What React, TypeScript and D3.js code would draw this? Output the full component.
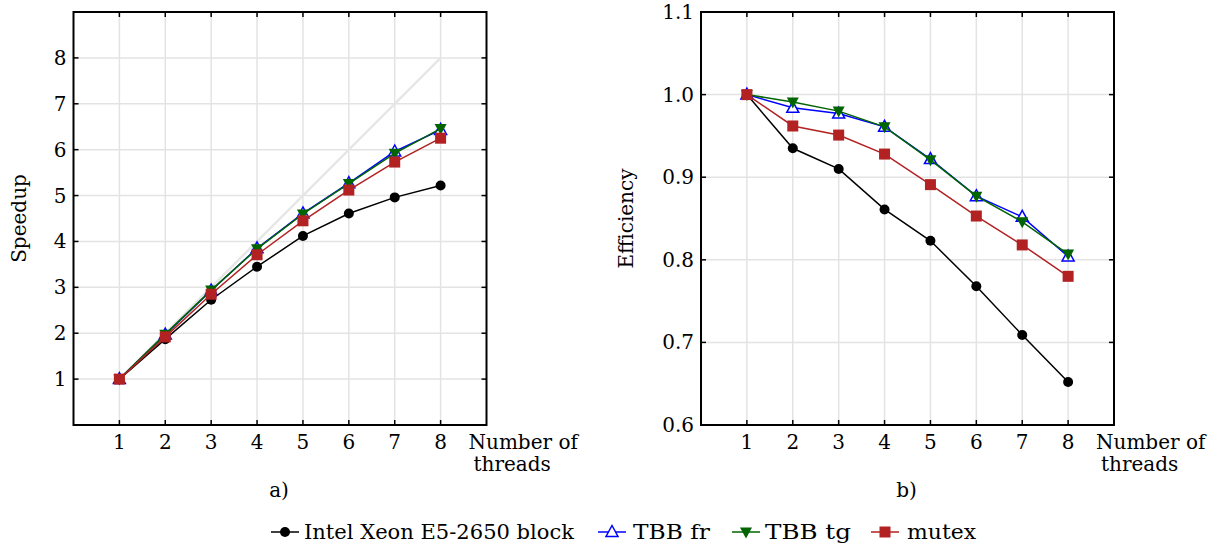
import * as React from 'react';
import * as d3 from 'd3';

const threads = [1, 2, 3, 4, 5, 6, 7, 8];
const idealSpeedup = [1, 8];

// speedup values (panel a)
const intelSpeedup = [1, 1.87, 2.73, 3.45, 4.12, 4.61, 4.96, 5.22];
const tbbFrSpeedup = [1, 1.97, 2.93, 3.85, 4.61, 5.27, 5.96, 6.43];
const tbbTgSpeedup = [1, 1.98, 2.94, 3.84, 4.6, 5.26, 5.92, 6.46];
const mutexSpeedup = [1, 1.92, 2.85, 3.71, 4.45, 5.12, 5.73, 6.25];

// efficiency values (panel b)
const intelEff = [1, 0.935, 0.91, 0.861, 0.823, 0.768, 0.709, 0.652];
const tbbFrEff = [1, 0.984, 0.977, 0.961, 0.922, 0.877, 0.852, 0.804];
const tbbTgEff = [1, 0.991, 0.98, 0.961, 0.921, 0.877, 0.846, 0.807];
const mutexEff = [1, 0.962, 0.951, 0.928, 0.891, 0.853, 0.818, 0.78];

const speedupTicks = [1, 2, 3, 4, 5, 6, 7, 8];
const effTicks = [0.6, 0.7, 0.8, 0.9, 1.0, 1.1];

const seriesNames = ['Intel Xeon E5-2650 block', 'TBB fr', 'TBB tg', 'mutex'];
const seriesColors = ['#000000', '#0000ff', '#006400', '#b22222'];
const seriesMarkers = ['circle', 'triUp', 'triDown', 'square'];

const FONT = '"DejaVu Serif", serif';
const FS = 20;

function drawMarker(g, kind, x, y, color) {
  if (kind === 'circle') {
    g.append('circle').attr('cx', x).attr('cy', y).attr('r', 5).attr('fill', color);
  } else if (kind === 'square') {
    g.append('rect').attr('x', x - 5.5).attr('y', y - 5.5).attr('width', 11).attr('height', 11).attr('fill', color);
  } else if (kind === 'triUp') {
    g.append('path')
      .attr('d', `M${x},${y - 6.5}L${x + 6},${y + 4.5}L${x - 6},${y + 4.5}Z`)
      .attr('fill', 'white').attr('stroke', color).attr('stroke-width', 1.5);
  } else {
    g.append('path')
      .attr('d', `M${x},${y + 6.5}L${x + 6},${y - 4.5}L${x - 6},${y - 4.5}Z`)
      .attr('fill', color);
  }
}

function drawPanel(svg, opts) {
  const { left, right, top, bottom, yDomain, yTicks, yFmt, series, ideal, ylabel, ylabelX, caption } = opts;
  const x = d3.scaleLinear().domain([0, 9]).range([left, right]);
  const y = d3.scaleLinear().domain(yDomain).range([bottom, top]);
  const g = svg.append('g');

  // grid
  threads.forEach((t) => {
    g.append('line').attr('x1', x(t)).attr('x2', x(t)).attr('y1', top).attr('y2', bottom)
      .attr('stroke', '#e3e3e3').attr('stroke-width', 1.5);
  });
  yTicks.forEach((v) => {
    g.append('line').attr('x1', left).attr('x2', right).attr('y1', y(v)).attr('y2', y(v))
      .attr('stroke', '#e3e3e3').attr('stroke-width', 1.5);
  });

  if (ideal) {
    g.append('line').attr('x1', x(1)).attr('y1', y(ideal[0])).attr('x2', x(8)).attr('y2', y(ideal[1]))
      .attr('stroke', '#e6e6e6').attr('stroke-width', 2.5);
  }

  // series
  series.forEach((vals, i) => {
    const line = d3.line().x((d, j) => x(threads[j])).y((d) => y(d));
    g.append('path').attr('d', line(vals)).attr('fill', 'none')
      .attr('stroke', seriesColors[i]).attr('stroke-width', 1.5);
    vals.forEach((v, j) => drawMarker(g, seriesMarkers[i], x(threads[j]), y(v), seriesColors[i]));
  });

  // frame
  g.append('rect').attr('x', left).attr('y', top).attr('width', right - left).attr('height', bottom - top)
    .attr('fill', 'none').attr('stroke', 'black').attr('stroke-width', 2);

  // inward ticks
  threads.forEach((t) => {
    g.append('line').attr('x1', x(t)).attr('x2', x(t)).attr('y1', bottom).attr('y2', bottom - 5).attr('stroke', 'black').attr('stroke-width', 1.5);
    g.append('line').attr('x1', x(t)).attr('x2', x(t)).attr('y1', top).attr('y2', top + 5).attr('stroke', 'black').attr('stroke-width', 1.5);
    g.append('text').attr('x', x(t)).attr('y', bottom + 24).attr('text-anchor', 'middle')
      .attr('font-family', FONT).attr('font-size', FS).text(String(t));
  });
  yTicks.forEach((v) => {
    g.append('line').attr('x1', left).attr('x2', left + 5).attr('y1', y(v)).attr('y2', y(v)).attr('stroke', 'black').attr('stroke-width', 1.5);
    g.append('line').attr('x1', right).attr('x2', right - 5).attr('y1', y(v)).attr('y2', y(v)).attr('stroke', 'black').attr('stroke-width', 1.5);
    g.append('text').attr('x', left - 7).attr('y', y(v) + 7).attr('text-anchor', 'end')
      .attr('font-family', FONT).attr('font-size', FS).text(yFmt(v));
  });

  g.append('text').attr('x', right - 18).attr('y', bottom + 24)
    .attr('font-family', FONT).attr('font-size', FS).text('Number of');
  g.append('text').attr('x', right - 13).attr('y', bottom + 46)
    .attr('font-family', FONT).attr('font-size', FS).text('threads');

  g.append('text').attr('transform', `translate(${ylabelX},${(top + bottom) / 2}) rotate(-90)`)
    .attr('text-anchor', 'middle').attr('font-family', FONT).attr('font-size', FS).text(ylabel);

  g.append('text').attr('x', (left + right) / 2 - 1).attr('y', 497).attr('text-anchor', 'middle')
    .attr('font-family', FONT).attr('font-size', FS).text(caption);
}

export default function App() {
  const ref = React.useRef(null);
  React.useEffect(() => {
    const svg = d3.select(ref.current);
    svg.selectAll('*').remove();

    drawPanel(svg, {
      left: 73.5, right: 486.5, top: 12, bottom: 425,
      yDomain: [0, 9], yTicks: speedupTicks, yFmt: (v) => String(v),
      series: [intelSpeedup, tbbFrSpeedup, tbbTgSpeedup, mutexSpeedup],
      ideal: idealSpeedup, ylabel: 'Speedup', ylabelX: 26, caption: 'a)',
    });
    drawPanel(svg, {
      left: 701, right: 1114, top: 12, bottom: 425,
      yDomain: [0.6, 1.1], yTicks: effTicks, yFmt: (v) => d3.format('.1f')(v),
      series: [intelEff, tbbFrEff, tbbTgEff, mutexEff],
      ideal: null, ylabel: 'Efficiency', ylabelX: 633, caption: 'b)',
    });

    // legend
    const leg = svg.append('g');
    const items = [
      { x0: 271, tx: 304, tl: 270 },
      { x0: 598, tx: 633, tl: 77 },
      { x0: 732, tx: 765, tl: 86 },
      { x0: 871, tx: 907, tl: 69 },
    ];
    const ly = 532;
    seriesNames.forEach((name, i) => {
      const it = items[i];
      leg.append('line').attr('x1', it.x0).attr('x2', it.x0 + 28).attr('y1', ly).attr('y2', ly)
        .attr('stroke', seriesColors[i]).attr('stroke-width', 1.5);
      drawMarker(leg, seriesMarkers[i], it.x0 + 14, ly, seriesColors[i]);
      leg.append('text').attr('x', it.tx).attr('y', ly + 7).attr('font-family', FONT).attr('font-size', FS)
        .attr('textLength', it.tl).attr('lengthAdjust', 'spacingAndGlyphs').text(name);
    });
  }, []);

  return (
    <svg ref={ref} width={1220} height={547}
      style={{ position: 'absolute', left: 0, top: 0, background: 'white' }} />
  );
}
